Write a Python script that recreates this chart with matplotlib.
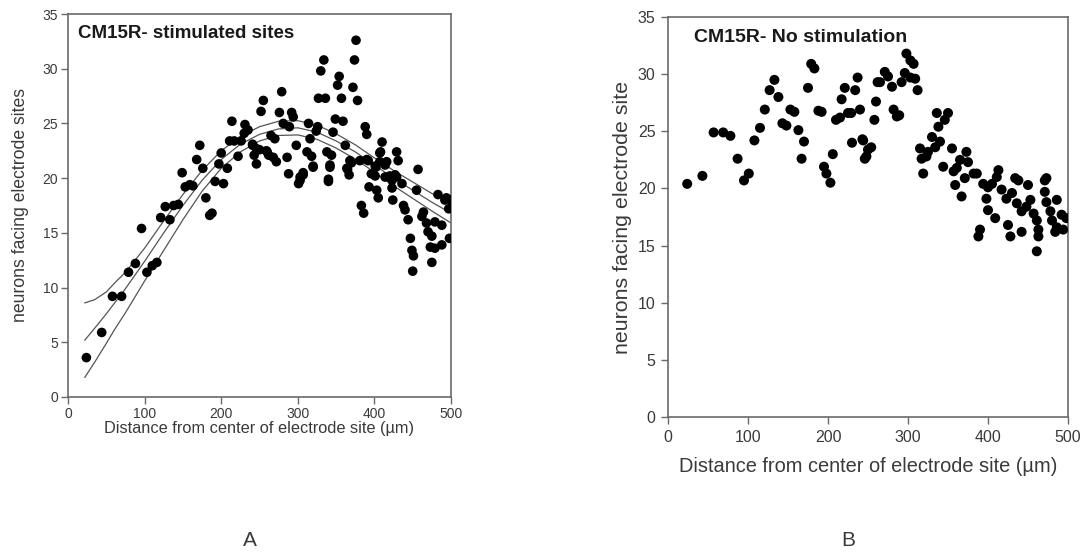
import numpy as np
import matplotlib.pyplot as plt

# Panel A: stimulated sites (distance in um, neuron count)
dist_a = [24, 44, 58, 70, 79, 88, 96, 103, 110, 116, 121, 133, 127, 138, 144, 149,
          153, 159, 163, 168, 172, 176, 180, 185, 188, 192, 203, 197, 200, 208,
          214, 211, 217, 222, 226, 231, 235, 230, 241, 246, 243, 250, 252, 255,
          260, 376, 374, 334, 330, 354, 352, 372, 327, 336, 357, 378, 279, 276,
          292, 294, 281, 289, 314, 326, 324, 349, 359, 346, 388, 390, 265, 270,
          241, 246, 259, 268, 286, 298, 316, 312, 320, 338, 344, 342, 362, 368,
          365, 381, 392, 410, 408, 429, 431, 457, 416, 401, 307, 303, 288, 340,
          420, 429, 401, 262, 272, 303, 307, 301, 318, 320, 340, 342, 364, 367,
          370, 390, 396, 402, 407, 414, 407, 414, 423, 427, 436, 393, 403, 405,
          424, 383, 386, 423, 438, 440, 444, 455, 464, 462, 468, 470, 475, 479,
          488, 483, 492, 497, 498, 447, 449, 451, 450, 473, 479, 488, 475, 494,
          500]
count_a = [3.6, 5.9, 9.2, 9.2, 11.4, 12.2, 15.4, 11.4, 12.0, 12.3, 16.4, 16.2,
           17.4, 17.5, 17.6, 20.5, 19.2, 19.4, 19.3, 21.7, 23.0, 20.9, 18.2,
           16.6, 16.8, 19.7, 19.5, 21.3, 22.3, 20.9, 25.2, 23.4, 23.4, 22.0,
           23.4, 24.9, 24.4, 24.1, 23.0, 21.3, 22.1, 22.6, 26.1, 27.1, 22.4,
           32.6, 30.8, 30.8, 29.8, 29.3, 28.5, 28.3, 27.3, 27.3, 27.3, 27.1,
           27.9, 26.0, 26.0, 25.6, 25.0, 24.7, 25.0, 24.7, 24.3, 25.4, 25.2,
           24.2, 24.7, 24.0, 23.9, 23.6, 23.1, 22.7, 22.5, 21.9, 21.9, 23.0,
           23.6, 22.4, 21.1, 22.4, 22.1, 21.0, 23.0, 21.6, 20.8, 21.6, 21.6,
           23.3, 22.4, 22.4, 21.6, 20.8, 21.5, 21.1, 20.5, 20.1, 20.4, 19.9,
           20.2, 20.1, 20.2, 22.1, 21.5, 19.8, 20.3, 19.5, 22.0, 21.0, 19.7,
           21.2, 20.9, 20.3, 21.4, 21.7, 20.4, 21.0, 22.3, 21.2, 21.5, 20.1,
           19.8, 20.3, 19.5, 19.2, 18.9, 18.2, 18.0, 17.5, 16.8, 19.1, 17.5,
           17.1, 16.2, 18.9, 16.9, 16.5, 15.9, 15.1, 14.7, 16.0, 15.7, 18.5,
           18.0, 17.2, 14.5, 14.5, 13.4, 12.9, 11.5, 13.7, 13.6, 13.9, 12.3,
           18.2, 18.0]

# regression curve of panel A and its confidence band
fit_x = [22, 35, 50, 62, 75, 100, 125, 150, 175, 200, 225, 250, 275, 300, 325,
         350, 375, 400, 425, 450, 475, 500]
fit_mid = [5.2, 6.3, 7.6, 8.7, 9.9, 12.4, 15.0, 17.5, 19.8, 21.7, 23.1, 24.0,
           24.5, 24.6, 24.2, 23.4, 22.4, 21.2, 20.0, 18.9, 17.8, 16.8]
fit_hi = [8.6, 8.9, 9.6, 10.5, 11.4, 13.6, 16.1, 18.5, 20.7, 22.5, 23.8, 24.7,
          25.2, 25.25, 24.85, 24.05, 23.05, 21.85, 20.7, 19.65, 18.6, 17.7]
fit_lo = [1.8, 3.2, 4.9, 6.3, 7.7, 10.6, 13.4, 16.2, 18.8, 20.9, 22.4, 23.4,
          23.9, 23.95, 23.55, 22.75, 21.75, 20.55, 19.3, 18.15, 17.0, 15.9]

# Panel B: no stimulation
dist_b = [24, 43, 57, 69, 78, 87, 95, 101, 108, 115, 121, 127, 133, 138, 143, 148,
          153, 158, 163, 170, 167, 175, 179, 183, 188, 192, 195, 198, 203, 206,
          210, 215, 217, 221, 225, 229, 230, 234, 237, 240, 243, 248, 250, 254,
          260, 258, 262, 244, 246, 265, 271, 275, 280, 282, 286, 289, 292, 296,
          303, 309, 312, 298, 303, 307, 336, 350, 346, 338, 330, 340, 334, 325,
          315, 317, 323, 319, 355, 344, 361, 365, 373, 375, 386, 413, 411, 434,
          473, 357, 371, 359, 367, 382, 394, 400, 405, 398, 400, 409, 390, 388,
          417, 423, 430, 438, 436, 442, 425, 428, 442, 450, 453, 448, 457, 461,
          463, 463, 461, 471, 471, 473, 478, 480, 486, 484, 492, 494, 498, 486]
count_b = [20.4, 21.1, 24.9, 24.9, 24.6, 22.6, 20.7, 21.3, 24.2, 25.3, 26.9,
           28.6, 29.5, 28.0, 25.7, 25.5, 26.9, 26.7, 25.1, 24.1, 22.6, 28.8,
           30.9, 30.5, 26.8, 26.7, 21.9, 21.3, 20.5, 23.0, 26.0, 26.2, 27.8,
           28.8, 26.6, 26.6, 24.0, 28.6, 29.7, 26.9, 24.3, 22.8, 23.4, 23.6,
           27.6, 26.0, 29.3, 24.2, 22.6, 29.3, 30.2, 29.8, 28.9, 26.9, 26.3,
           26.4, 29.3, 30.1, 29.7, 29.6, 28.6, 31.8, 31.2, 30.9, 26.6, 26.6,
           26.0, 25.4, 24.5, 24.1, 23.6, 23.2, 23.5, 22.6, 22.8, 21.3, 23.5,
           21.9, 21.8, 22.5, 23.2, 22.3, 21.3, 21.6, 21.0, 20.9, 20.9, 21.5,
           20.9, 20.3, 19.3, 21.3, 20.4, 20.1, 20.4, 19.1, 18.1, 17.4, 16.4,
           15.8, 19.9, 19.1, 19.6, 20.7, 18.7, 18.0, 16.8, 15.8, 16.2, 20.3,
           19.0, 18.4, 17.8, 17.2, 16.4, 15.8, 14.5, 20.7, 19.7, 18.8, 18.0,
           17.2, 16.6, 16.2, 17.7, 16.4, 17.4, 19.0]

x_ticks = [0, 100, 200, 300, 400, 500]
y_ticks = [0, 5, 10, 15, 20, 25, 30, 35]

plt.rcParams['font.family'] = ['Liberation Sans', 'DejaVu Sans']
spine_col = '#6a6a6a'
text_col = '#3a3a3a'


def style_axes(ax, tick_size, pad):
    ax.set_xlim(0, 500)
    ax.set_ylim(0, 35)
    ax.set_xticks(x_ticks)
    ax.set_yticks(y_ticks)
    for s in ax.spines.values():
        s.set_color(spine_col)
        s.set_linewidth(1.2)
    ax.tick_params(direction='out', length=5, width=1, color=spine_col,
                   labelcolor=text_col, labelsize=tick_size, pad=pad)


fig = plt.figure(figsize=(10.9, 5.53), dpi=100)
ax_a = fig.add_axes([68 / 1090, 1 - 397 / 553, 383 / 1090, 383 / 553])
ax_b = fig.add_axes([668 / 1090, 1 - 417 / 553, 400 / 1090, 400 / 553])

# panel A
style_axes(ax_a, 10, 2)
for line in (fit_mid, fit_hi, fit_lo):
    ax_a.plot(fit_x, line, color='#555555', lw=0.9, zorder=2)
ax_a.scatter(dist_a, count_a, s=48, color='black', edgecolors='none', zorder=3)
ax_a.text(0.027, 0.97, 'CM15R- stimulated sites', transform=ax_a.transAxes,
          fontweight='bold', fontsize=13.5, va='top', ha='left', color='#1a1a1a')
ax_a.set_xlabel('Distance from center of electrode site (µm)', fontsize=11.8,
                color=text_col, labelpad=0)
ax_a.set_ylabel('neurons facing electrode sites', fontsize=12.7, color=text_col,
                labelpad=10)

# panel B
style_axes(ax_b, 11.5, 4)
ax_b.scatter(dist_b, count_b, s=52, color='black', edgecolors='none', zorder=3)
ax_b.text(0.065, 0.97, 'CM15R- No stimulation', transform=ax_b.transAxes,
          fontweight='bold', fontsize=14, va='top', ha='left', color='#1a1a1a')
ax_b.set_xlabel('Distance from center of electrode site (µm)', fontsize=14.4,
                color=text_col, labelpad=9)
ax_b.set_ylabel('neurons facing electrode site', fontsize=15.4, color=text_col,
                labelpad=4)

fig.text(250 / 1090, 1 - 540 / 553, 'A', fontsize=15, ha='center', va='center',
         color=text_col)
fig.text(848 / 1090, 1 - 540 / 553, 'B', fontsize=15, ha='center', va='center',
         color=text_col)

fig.savefig('out.png', dpi=100)
